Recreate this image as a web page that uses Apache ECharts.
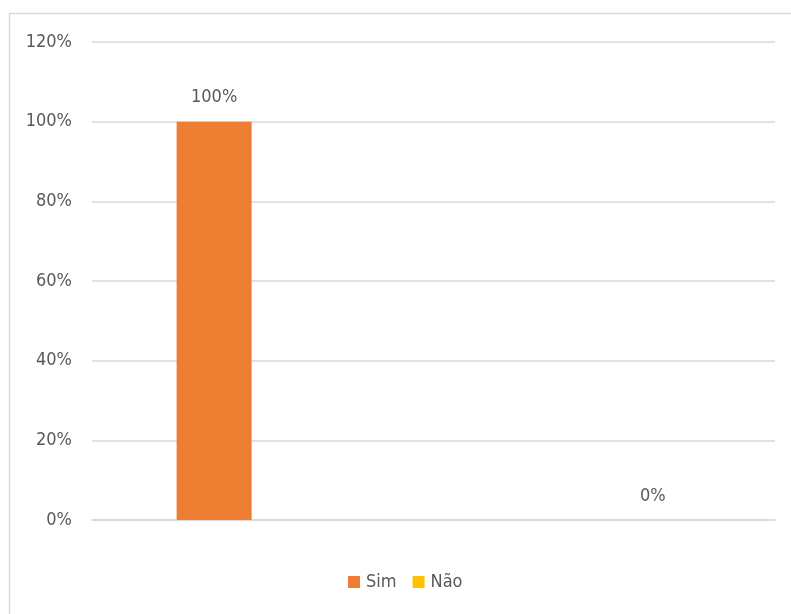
<!DOCTYPE html>
<html>
<head>
<meta charset="utf-8">
<script src="https://cdn.jsdelivr.net/npm/echarts@6/dist/echarts.min.js"></script>
<style>
  html, body { margin: 0; padding: 0; background: #ffffff; }
  #chart { width: 791px; height: 614px; }
</style>
</head>
<body>
<div id="chart"></div>
<script>
// Answer shares (percent) for a single question
const categories = [''];
const seriesNames = ['Sim', 'Não'];
const simValues = [100];
const naoValues = [0];
const yTicks = { min: 0, max: 120, interval: 20 };

const FONT = '"DejaVu Sans Condensed", "Liberation Sans Narrow", sans-serif';
const TEXT = '#595959';

const chart = echarts.init(document.getElementById('chart'));
chart.setOption({
  backgroundColor: '#ffffff',
  animation: false,
  textStyle: { fontFamily: FONT },
  graphic: [{
    type: 'rect',
    shape: { x: 9.5, y: 13.5, width: 900, height: 700 },
    style: { fill: 'none', stroke: '#d9d9d9', lineWidth: 1.5 },
    silent: true
  }],
  grid: { left: 92, right: 16, top: 42, bottom: 94 },
  legend: {
    left: 343, top: 568,
    itemWidth: 12, itemHeight: 12, itemGap: 16,
    icon: 'rect',
    textStyle: { color: TEXT, fontSize: 18, fontFamily: FONT, padding: [0, 0, 0, 1] },
    data: seriesNames
  },
  xAxis: {
    type: 'category',
    data: categories,
    axisLine: { show: true, lineStyle: { color: '#d9d9d9', width: 1.5 } },
    axisTick: { show: false },
    axisLabel: { show: false }
  },
  yAxis: {
    type: 'value',
    min: yTicks.min, max: yTicks.max, interval: yTicks.interval,
    axisLine: { show: false },
    axisTick: { show: false },
    axisLabel: { color: TEXT, fontSize: 18, fontFamily: FONT, margin: 20, formatter: v => v + '%' },
    splitLine: { lineStyle: { color: '#d9d9d9', width: 1.5 } }
  },
  series: [
    {
      name: seriesNames[0], type: 'bar', data: simValues,
      barWidth: 75, barGap: '485%',
      itemStyle: { color: '#ed7d31' },
      label: { show: true, position: 'top', distance: 15, color: TEXT, fontSize: 18, fontFamily: FONT, formatter: p => p.value + '%' }
    },
    {
      name: seriesNames[1], type: 'bar', data: naoValues,
      barWidth: 75,
      itemStyle: { color: '#ffc000' },
      label: { show: true, position: 'top', distance: 15, color: TEXT, fontSize: 18, fontFamily: FONT, formatter: p => p.value + '%' }
    }
  ]
});
</script>
</body>
</html>
